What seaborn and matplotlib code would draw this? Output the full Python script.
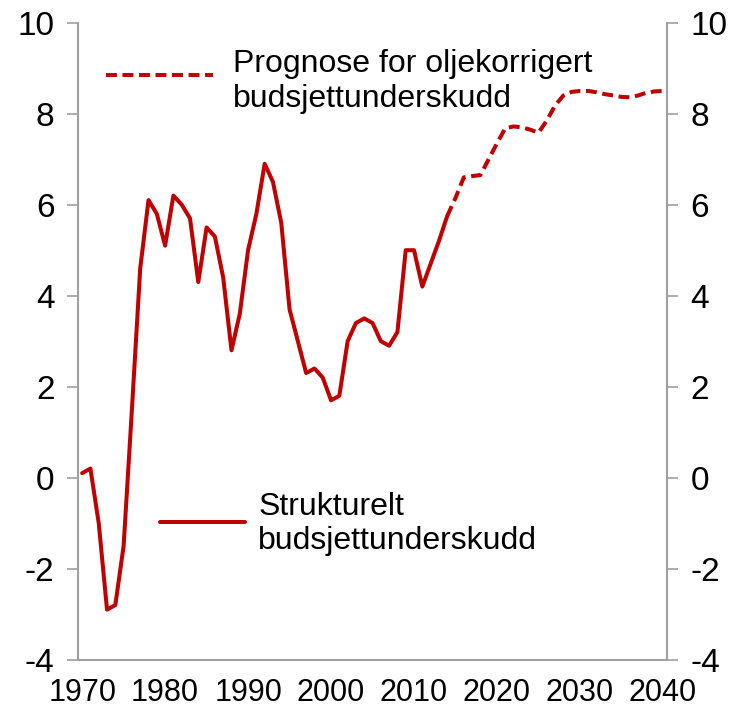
import matplotlib
matplotlib.use("Agg")
import matplotlib.pyplot as plt
from matplotlib.ticker import MultipleLocator
import pandas as pd
import seaborn as sns

# strukturelt underskudd, faktiske tall
years_actual = list(range(1970, 2015))
structural = [0.1, 0.2, -1.0, -2.9, -2.8, -1.5, 1.5, 4.6, 6.1, 5.8,
              5.1, 6.2, 6.0, 5.7, 4.3, 5.5, 5.3, 4.4, 2.8, 3.6,
              5.0, 5.8, 6.9, 6.5, 5.6, 3.7, 3.0, 2.3, 2.4, 2.2,
              1.7, 1.8, 3.0, 3.4, 3.5, 3.4, 3.0, 2.9, 3.2, 5.0,
              5.0, 4.2, 4.7, 5.2, 5.75]

# prognose
years_forecast = list(range(2014, 2041))
forecast = [5.75, 6.15, 6.6, 6.63, 6.65, 7.0, 7.35, 7.68, 7.72, 7.7,
            7.65, 7.58, 7.85, 8.18, 8.4, 8.48, 8.5, 8.5, 8.47, 8.43,
            8.4, 8.37, 8.36, 8.4, 8.46, 8.49, 8.5]

label_actual = "Strukturelt\nbudsjettunderskudd"
label_forecast = "Prognose for oljekorrigert\nbudsjettunderskudd"

red = "#C00000"
grey = "#A0A0A0"

sns.set_style("white")
plt.rcParams['font.family'] = ['Liberation Sans', 'DejaVu Sans']
plt.rcParams['axes.unicode_minus'] = False
plt.rcParams['text.color'] = 'black'

df_a = pd.DataFrame({"year": years_actual, "value": structural})
df_f = pd.DataFrame({"year": years_forecast, "value": forecast})

fig = plt.figure(figsize=(7.47, 7.12), dpi=100)
ax = fig.add_axes([0.1044, 0.0735, 0.7886, 0.8946])

sns.lineplot(data=df_a, x="year", y="value", ax=ax, color=red, linewidth=2.9)
sns.lineplot(data=df_f, x="year", y="value", ax=ax, color=red, linewidth=2.9,
             dashes=False)
ax.lines[-1].set_dashes((2.7, 1.4))

ax.set_xlim(1969.5, 2040.5)
ax.set_ylim(-4, 10)
ax.set_xlabel("")
ax.set_ylabel("")

ax.xaxis.set_major_locator(MultipleLocator(10))
ax.xaxis.set_minor_locator(MultipleLocator(1, offset=0.5))
ax.yaxis.set_major_locator(MultipleLocator(2))
ax.tick_params(axis="x", which="major", length=0, labelsize=22, pad=13,
               labelcolor="black")
ax.tick_params(axis="x", which="minor", length=5, width=1, color=grey,
               direction="out")
ax.tick_params(axis="y", which="major", length=8, width=1.2, color=grey,
               labelsize=24, left=True, right=True, labelleft=True,
               labelright=True, pad=9, labelcolor="black")

for side in ["left", "right", "bottom"]:
    ax.spines[side].set_color(grey)
    ax.spines[side].set_linewidth(1.5)
ax.spines["top"].set_visible(False)

# legend tekst og linjer
ax.plot([0.0475, 0.229], [0.918, 0.918], transform=ax.transAxes, color=red,
        linewidth=2.9, dashes=(2.7, 1.4))
ax.text(0.263, 0.908, label_forecast, transform=ax.transAxes, fontsize=23,
        va="center", ha="left", linespacing=1.2, color="black")
ax.plot([0.139, 0.284], [0.2166, 0.2166], transform=ax.transAxes, color=red,
        linewidth=2.9)
ax.text(0.306, 0.213, label_actual, transform=ax.transAxes, fontsize=23,
        va="center", ha="left", linespacing=1.2, color="black")

fig.savefig("out.png", dpi=100)
